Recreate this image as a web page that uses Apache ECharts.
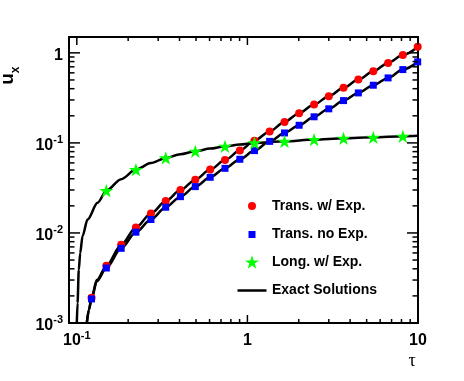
<!DOCTYPE html>
<html>
<head>
<meta charset="utf-8">
<script src="https://cdn.jsdelivr.net/npm/echarts@6/dist/echarts.min.js"></script>
<style>
html, body { margin: 0; padding: 0; background: #fff; }
#main { width: 464px; height: 381px; }
</style>
</head>
<body>
<div id="main"></div>
<script>
var FONT = 'Liberation Sans';

// marker positions on tau
var tau = [0.122, 0.149, 0.182, 0.222, 0.272, 0.332, 0.405, 0.495, 0.605, 0.739, 0.903, 1.10,
	1.35, 1.65, 2.01, 2.46, 3.00, 3.66, 4.47, 5.47, 6.68, 8.15, 9.96];
// red circles
var transExp = [0.00191, 0.00433, 0.00741, 0.0115, 0.0164, 0.0226, 0.0299, 0.0391, 0.0505, 0.0644, 0.0821, 0.106,
	0.134, 0.171, 0.214, 0.267, 0.330, 0.409, 0.505, 0.625, 0.774, 0.945, 1.17];
// blue squares
var transNoExp = [0.00185, 0.00408, 0.00675, 0.0102, 0.0141, 0.0193, 0.0253, 0.0327, 0.0415, 0.0522, 0.0658, 0.0821,
	0.104, 0.129, 0.157, 0.195, 0.239, 0.295, 0.359, 0.437, 0.527, 0.652, 0.794];
// green stars
var longTau = [0.149, 0.222, 0.332, 0.495, 0.739, 1.10, 1.65, 2.46, 3.66, 5.47, 8.15];
var longExp = [0.0295, 0.0505, 0.0681, 0.0807, 0.0917, 0.100, 0.104, 0.109, 0.1125, 0.1154, 0.1184];

// exact solutions [tau, u]
var exactTransExp = [[0.1145, 0.001], [0.1177, 0.0014], [0.122, 0.0019], [0.131, 0.0030], [0.149, 0.0043],
	[0.182, 0.0074], [0.222, 0.0115], [0.272, 0.0164], [0.332, 0.0226], [0.405, 0.0299], [0.495, 0.0391],
	[0.605, 0.0505], [0.739, 0.0644], [0.903, 0.0821], [1.10, 0.106], [1.35, 0.134], [1.65, 0.171],
	[2.01, 0.214], [2.46, 0.267], [3.00, 0.330], [3.66, 0.409], [4.47, 0.505], [5.47, 0.625],
	[6.68, 0.774], [8.15, 0.945], [10, 1.17]];
var exactTransNoExp = [[0.1145, 0.001], [0.1177, 0.0014], [0.122, 0.00185], [0.131, 0.0029], [0.149, 0.00408],
	[0.182, 0.00675], [0.222, 0.0102], [0.272, 0.0141], [0.332, 0.0193], [0.405, 0.0253], [0.495, 0.0327],
	[0.605, 0.0415], [0.739, 0.0522], [0.903, 0.0658], [1.10, 0.0821], [1.35, 0.104], [1.65, 0.129],
	[2.01, 0.157], [2.46, 0.195], [3.00, 0.239], [3.66, 0.295], [4.47, 0.359], [5.47, 0.437],
	[6.68, 0.527], [8.15, 0.652], [10, 0.794]];
var exactLong = [[0.1, 0.001], [0.101, 0.00167], [0.1027, 0.0039], [0.1047, 0.0060], [0.108, 0.0092],
	[0.1156, 0.0141], [0.1323, 0.0216], [0.149, 0.0295], [0.182, 0.0396], [0.222, 0.0505], [0.272, 0.0597],
	[0.332, 0.0681], [0.405, 0.0748], [0.495, 0.0807], [0.605, 0.0865], [0.739, 0.0917], [0.903, 0.0958],
	[1.10, 0.100], [1.65, 0.104], [2.46, 0.109], [3.66, 0.1125], [5.47, 0.1154], [8.15, 0.1184], [10, 0.1197]];

// ticks
var xMajor = [0.1, 1, 10];
var xMinor = [0.2, 0.3, 0.4, 0.5, 0.6, 0.7, 0.8, 0.9, 2, 3, 4, 5, 6, 7, 8, 9];
var yMajor = [0.001, 0.01, 0.1, 1];
var yMinor = [0.002, 0.003, 0.004, 0.005, 0.006, 0.007, 0.008, 0.009,
	0.02, 0.03, 0.04, 0.05, 0.06, 0.07, 0.08, 0.09,
	0.2, 0.3, 0.4, 0.5, 0.6, 0.7, 0.8, 0.9];

var STAR = 'path://M10,0L12.245,6.91L19.51,6.91L13.63,11.18L15.88,18.09L10,13.82L4.12,18.09L6.37,11.18L0.49,6.91L7.755,6.91Z';

function pairs(xs, ys) {
	return xs.map(function (x, i) { return [x, ys[i]]; });
}

// tick marks: [x, y, kind]  kind 0/1 = x major/minor, 2/3 = y major/minor
var tickData = [];
xMajor.forEach(function (v) { tickData.push([v, 0.01, 0]); });
xMinor.forEach(function (v) { tickData.push([v, 0.01, 1]); });
yMajor.forEach(function (v) { tickData.push([1, v, 2]); });
yMinor.forEach(function (v) { tickData.push([1, v, 3]); });

function renderTick(params, api) {
	var cs = params.coordSys;
	var kind = api.value(2);
	var pt = api.coord([api.value(0), api.value(1)]);
	var style = { stroke: '#000', lineWidth: 1.5 };
	var bottom = cs.y + cs.height, right = cs.x + cs.width;
	var len;
	if (kind < 2) {
		len = kind === 0 ? 8 : 4;
		return { type: 'group', children: [
			{ type: 'line', shape: { x1: pt[0], y1: bottom, x2: pt[0], y2: bottom - len }, style: style },
			{ type: 'line', shape: { x1: pt[0], y1: cs.y, x2: pt[0], y2: cs.y + len }, style: style }
		] };
	}
	len = kind === 2 ? 11 : 5.5;
	return { type: 'group', children: [
		{ type: 'line', shape: { x1: cs.x, y1: pt[1], x2: cs.x + len, y2: pt[1] }, style: style },
		{ type: 'line', shape: { x1: right, y1: pt[1], x2: right - len, y2: pt[1] }, style: style }
	] };
}

function logLabel(v) {
	var l = Math.log10(v), e = Math.round(l);
	if (Math.abs(l - e) > 1e-6) return '';
	if (e === 0) return '{b|1}';
	if (e === 1) return '{b|10}';
	return '{b|10}{s|' + e + '}';
}

var labelRich = {
	b: { fontSize: 16, fontWeight: 'bold', fontFamily: FONT, color: '#000', padding: [5, 0, 0, 0] },
	s: { fontSize: 11, fontWeight: 'bold', fontFamily: FONT, color: '#000', padding: [0, 0, 6, 0] }
};

// one legend per entry so each icon gets its own size; icons centred on x = 252, text from x = 272
function legendItem(name, icon, top, w, h, keep) {
	return {
		data: [{ name: name, icon: icon }], left: 252 - w / 2, top: top, orient: 'vertical', padding: 0,
		itemWidth: w, itemHeight: h, selectedMode: false, symbolKeepAspect: keep,
		textStyle: { fontSize: 14, fontWeight: 'bold', color: '#000', fontFamily: FONT, padding: [0, 0, 0, 15 - w / 2] }
	};
}

var chart = echarts.init(document.getElementById('main'));
chart.setOption({
	animation: false,
	backgroundColor: '#fff',
	grid: { left: 69, right: 46, top: 37, bottom: 58, show: true, borderColor: '#000', borderWidth: 2 },
	xAxis: {
		type: 'log', logBase: 10, min: 0.09, max: 10,
		axisLine: { show: false }, axisTick: { show: false }, splitLine: { show: false },
		axisLabel: { formatter: logLabel, rich: labelRich, margin: 5 }
	},
	yAxis: {
		type: 'log', logBase: 10, min: 0.001, max: 1.5,
		axisLine: { show: false }, axisTick: { show: false }, splitLine: { show: false },
		axisLabel: { formatter: logLabel, rich: labelRich, margin: 6 }
	},
	legend: [
		legendItem('Trans. w/ Exp.', 'circle', 199, 8, 8, true),
		legendItem('Trans. no Exp.', 'rect', 227.5, 7, 7, true),
		legendItem('Long. w/ Exp.', STAR, 255, 14, 14, true),
		legendItem('Exact Solutions', 'rect', 283.5, 29, 2.5, false)
	],
	graphic: [
		{ type: 'text', x: 8, y: 79, rotation: Math.PI / 2,
			style: { text: 'u', font: 'bold 19px Liberation Sans', fill: '#000', align: 'center', verticalAlign: 'middle' } },
		{ type: 'text', x: 16, y: 70, rotation: Math.PI / 2,
			style: { text: 'x', font: 'bold 12px Liberation Sans', fill: '#000', align: 'center', verticalAlign: 'middle' } },
		{ type: 'text', x: 412, y: 361,
			style: { text: 'τ', font: '18px Liberation Serif', fill: '#000', align: 'center', verticalAlign: 'middle' } }
	],
	series: [
		{ type: 'line', name: 'Exact Solutions', data: exactTransExp, symbol: 'none', smooth: 0.3, smoothMonotone: 'x',
			lineStyle: { color: '#000', width: 2.5 }, itemStyle: { color: '#000' }, z: 2 },
		{ type: 'line', name: 'Exact Solutions', data: exactTransNoExp, symbol: 'none', smooth: 0.3, smoothMonotone: 'x',
			lineStyle: { color: '#000', width: 2.5 }, itemStyle: { color: '#000' }, z: 2 },
		{ type: 'line', name: 'Exact Solutions', data: exactLong, symbol: 'none', smooth: 0.3, smoothMonotone: 'x',
			lineStyle: { color: '#000', width: 2.5 }, itemStyle: { color: '#000' }, z: 2 },
		{ type: 'scatter', name: 'Trans. w/ Exp.', data: pairs(tau, transExp), symbol: 'circle', symbolSize: 8,
			itemStyle: { color: '#ff0000', opacity: 1 }, z: 3 },
		{ type: 'scatter', name: 'Trans. no Exp.', data: pairs(tau, transNoExp), symbol: 'rect', symbolSize: 7,
			itemStyle: { color: '#0000ff', opacity: 1 }, z: 4 },
		{ type: 'scatter', name: 'Long. w/ Exp.', data: pairs(longTau, longExp), symbol: STAR, symbolKeepAspect: true,
			symbolSize: 14, itemStyle: { color: '#00ff00', opacity: 1 }, z: 5 },
		{ type: 'custom', data: tickData, renderItem: renderTick, silent: true, clip: false, z: 10 }
	]
});
</script>
</body>
</html>
